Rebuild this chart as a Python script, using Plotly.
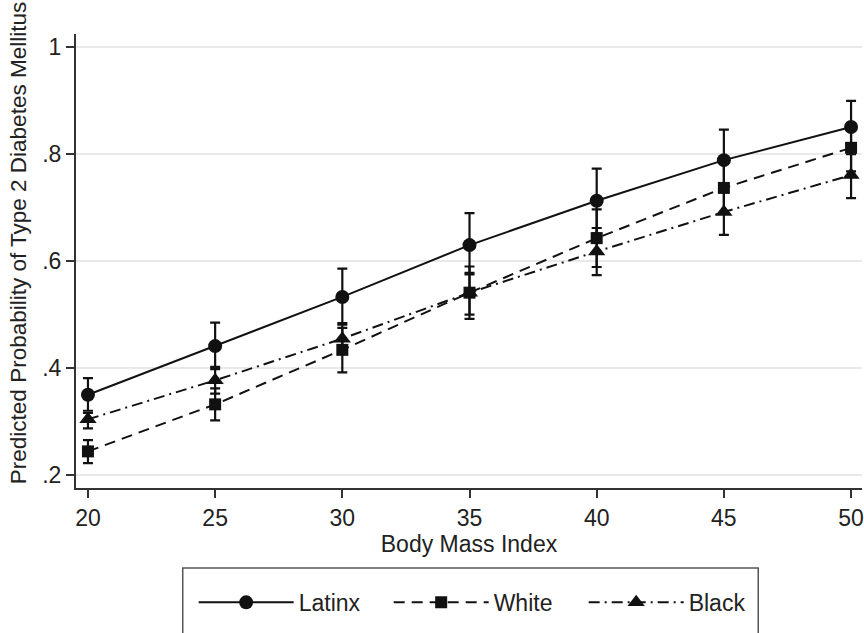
import plotly.graph_objects as go

# Body mass index values at which predicted probabilities were computed
bmi = [20, 25, 30, 35, 40, 45, 50]

# Predicted probability of type 2 diabetes with 95% confidence limits
latinx = [0.350, 0.441, 0.533, 0.630, 0.713, 0.789, 0.851]
latinx_lo = [0.320, 0.398, 0.481, 0.575, 0.652, 0.730, 0.800]
latinx_hi = [0.381, 0.485, 0.586, 0.690, 0.773, 0.846, 0.900]

white = [0.244, 0.332, 0.434, 0.541, 0.643, 0.737, 0.812]
white_lo = [0.222, 0.302, 0.392, 0.492, 0.589, 0.690, 0.768]
white_hi = [0.265, 0.362, 0.475, 0.590, 0.697, 0.785, 0.858]

black = [0.304, 0.377, 0.455, 0.541, 0.618, 0.692, 0.761]
black_lo = [0.287, 0.352, 0.427, 0.500, 0.574, 0.649, 0.718]
black_hi = [0.316, 0.402, 0.484, 0.578, 0.662, 0.735, 0.805]

y_ticks = [0.2, 0.4, 0.6, 0.8, 1.0]
y_tick_labels = [".2", ".4", ".6", ".8", "1"]
x_ticks = [20, 25, 30, 35, 40, 45, 50]

FONT = "Liberation Sans"
INK = "#111111"
TXT = "#222222"
FS = 23

series = [
    ("Latinx", latinx, latinx_lo, latinx_hi, "solid", "circle", 14),
    ("White", white, white_lo, white_hi, "11px,7px", "square", 12),
    ("Black", black, black_lo, black_hi, "11px,5px,2px,5px", "triangle-up", 15),
]

fig = go.Figure()
for name, y, lo, hi, dash, symbol, msize in series:
    fig.add_trace(go.Scatter(
        x=bmi, y=y, name=name, mode="lines+markers",
        line=dict(color=INK, width=2, dash=dash),
        marker=dict(symbol=symbol, size=msize, color=INK),
        error_y=dict(
            type="data", symmetric=False,
            array=[h - v for h, v in zip(hi, y)],
            arrayminus=[v - l for v, l in zip(y, lo)],
            color=INK, thickness=2.2, width=5,
        ),
        cliponaxis=False,
    ))

# Frame around the legend
fig.add_shape(type="rect", xref="paper", yref="paper",
              x0=0.1358, x1=0.868, y0=-0.34, y1=-0.1762,
              line=dict(color="#555555", width=1.5), fillcolor="rgba(0,0,0,0)")

# Vertical axis title
fig.add_annotation(
    text="Predicted Probability of Type 2 Diabetes Mellitus",
    xref="paper", yref="paper", x=-0.0736, y=0.5396,
    xanchor="center", yanchor="middle", textangle=-90, showarrow=False,
    font=dict(family=FONT, size=22.5, color=TXT),
)

fig.update_layout(
    width=864, height=633,
    margin=dict(l=76, r=0, t=34, b=145),
    paper_bgcolor="white", plot_bgcolor="white",
    font=dict(family=FONT, size=FS, color=TXT),
    showlegend=True,
    legend=dict(
        orientation="h", x=0.1497, xanchor="left", y=-0.252, yanchor="middle",
        font=dict(family=FONT, size=FS, color=TXT),
        itemwidth=95, entrywidth=85, bgcolor="rgba(0,0,0,0)", borderwidth=0,
        tracegroupgap=0,
    ),
    xaxis=dict(
        range=[19.53, 50.43], tickvals=x_ticks,
        showgrid=False, zeroline=False,
        showline=True, linecolor="#333333", linewidth=2,
        ticks="outside", ticklen=8, tickwidth=1.5, tickcolor="#333333",
        ticklabeloverflow="allow",
        tickfont=dict(family=FONT, size=FS, color=TXT),
        title=dict(text="Body Mass Index", standoff=0,
                   font=dict(family=FONT, size=FS, color=TXT)),
    ),
    yaxis=dict(
        range=[0.1755, 1.025], tickvals=y_ticks, ticktext=y_tick_labels,
        showgrid=True, gridcolor="#e9e9e9", gridwidth=1.5, zeroline=False,
        showline=True, linecolor="#333333", linewidth=2,
        ticks="outside", ticklen=8, tickwidth=1.5, tickcolor="#333333",
        tickfont=dict(family=FONT, size=FS, color=TXT),
    ),
)

fig.write_html("out.html")
